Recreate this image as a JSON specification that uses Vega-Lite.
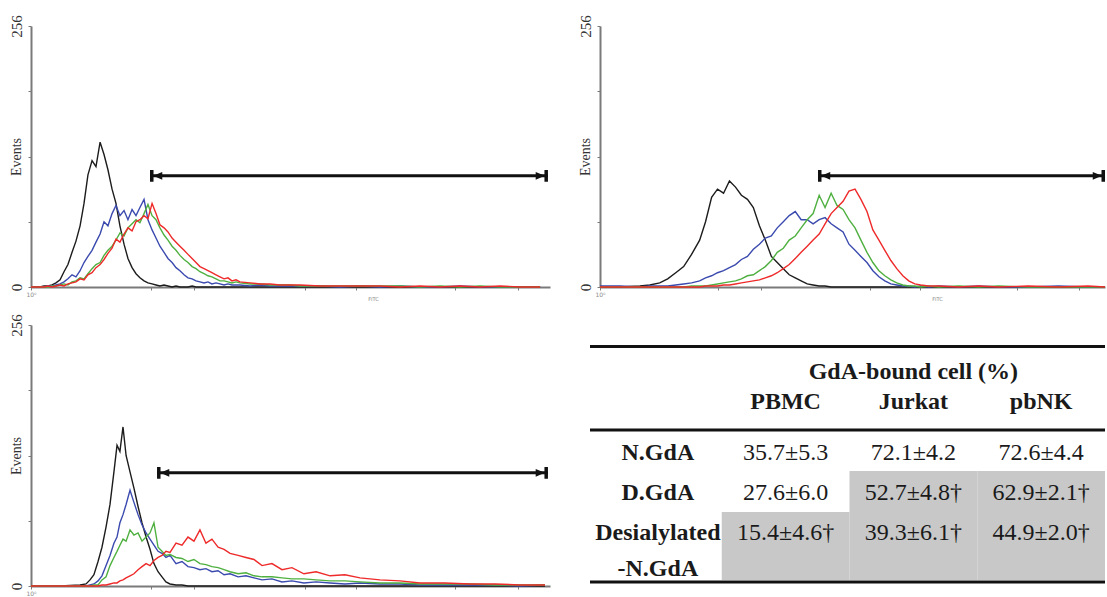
{
"$schema": "https://vega.github.io/schema/vega-lite/v6.json",
"background": "white",
"padding": {"left": 8, "top": 14, "right": 0, "bottom": 0},
"config": {
  "view": {"stroke": null},
  "font": "Liberation Serif",
  "axis": {"grid": false, "domainColor": "#7a7a7a", "domainWidth": 2, "tickColor": "#7a7a7a", "tickWidth": 1, "labelOverlap": false, "labelFlush": false, "labelBound": false},
  "axisX": {"tickSize": 3, "labelFontSize": 6, "labelColor": "#8a8a8a", "labelPadding": 1, "labelFont": "DejaVu Sans", "titleFont": "DejaVu Sans", "titleFontSize": 5, "titleColor": "#8a8a8a", "titleFontWeight": "normal", "titleBaseline": "middle", "titleY": 11},
  "axisY": {"tickSize": 3, "labelFontSize": 15, "labelColor": "#333333", "labelAngle": 270, "labelAlign": "center", "labelBaseline": "middle", "labelPadding": 12, "titleFontSize": 14, "titleFontWeight": "normal", "titleColor": "#333333", "titleX": -15, "titleY": 130.5, "titleAngle": 270, "titleAlign": "center", "titleBaseline": "middle"}
},
"datasets": {
  "h1": [
    {"L":0,"k":0,"b":0,"g":0,"r":0},
    {"L":0.053,"k":0,"b":0,"g":0,"r":0},
    {"L":0.076,"k":1,"b":0,"g":0,"r":0},
    {"L":0.099,"k":1,"b":1,"g":0,"r":1},
    {"L":0.123,"k":2,"b":1,"g":1,"r":0},
    {"L":0.146,"k":4,"b":2,"g":1,"r":1},
    {"L":0.170,"k":7,"b":3,"g":2,"r":2},
    {"L":0.193,"k":15,"b":5,"g":3,"r":1},
    {"L":0.216,"k":22,"b":8,"g":2,"r":3},
    {"L":0.240,"k":34,"b":12,"g":5,"r":4},
    {"L":0.263,"k":45,"b":10,"g":6,"r":5},
    {"L":0.287,"k":60,"b":16,"g":9,"r":8},
    {"L":0.310,"k":82,"b":24,"g":8,"r":7},
    {"L":0.333,"k":110,"b":30,"g":13,"r":12},
    {"L":0.357,"k":124,"b":36,"g":18,"r":14},
    {"L":0.380,"k":118,"b":44,"g":22,"r":19},
    {"L":0.404,"k":142,"b":52,"g":24,"r":22},
    {"L":0.427,"k":130,"b":64,"g":31,"r":27},
    {"L":0.450,"k":115,"b":60,"g":36,"r":33},
    {"L":0.474,"k":96,"b":72,"g":40,"r":38},
    {"L":0.497,"k":82,"b":80,"g":46,"r":47},
    {"L":0.520,"k":60,"b":70,"g":53,"r":44},
    {"L":0.544,"k":42,"b":75,"g":50,"r":52},
    {"L":0.567,"k":28,"b":66,"g":58,"r":58},
    {"L":0.591,"k":19,"b":76,"g":62,"r":55},
    {"L":0.614,"k":13,"b":70,"g":66,"r":64},
    {"L":0.637,"k":9,"b":78,"g":63,"r":66},
    {"L":0.661,"k":6,"b":86,"g":72,"r":70},
    {"L":0.684,"k":4,"b":66,"g":81,"r":67},
    {"L":0.708,"k":3,"b":56,"g":70,"r":82},
    {"L":0.731,"k":2,"b":48,"g":66,"r":72},
    {"L":0.754,"k":1,"b":40,"g":58,"r":61},
    {"L":0.778,"k":2,"b":34,"g":51,"r":58},
    {"L":0.801,"k":1,"b":28,"g":46,"r":54},
    {"L":0.825,"k":0,"b":24,"g":40,"r":48},
    {"L":0.848,"k":1,"b":19,"g":36,"r":44},
    {"L":0.871,"k":0,"b":16,"g":31,"r":40},
    {"L":0.895,"k":0,"b":12,"g":27,"r":36},
    {"L":0.918,"k":0,"b":9,"g":24,"r":32},
    {"L":0.942,"k":1,"b":8,"g":20,"r":28},
    {"L":0.965,"k":0,"b":6,"g":18,"r":24},
    {"L":0.988,"k":0,"b":5,"g":15,"r":20},
    {"L":1.012,"k":0,"b":4,"g":13,"r":18},
    {"L":1.035,"k":0,"b":5,"g":11,"r":16},
    {"L":1.058,"k":0,"b":3,"g":10,"r":14},
    {"L":1.082,"k":0,"b":4,"g":8,"r":12},
    {"L":1.105,"k":0,"b":3,"g":6,"r":10},
    {"L":1.129,"k":0,"b":2,"g":6,"r":8},
    {"L":1.152,"k":0,"b":3,"g":5,"r":9},
    {"L":1.175,"k":0,"b":2,"g":4,"r":6},
    {"L":1.199,"k":0,"b":2,"g":5,"r":7},
    {"L":1.222,"k":0,"b":2,"g":4,"r":5},
    {"L":1.281,"k":0,"b":1,"g":3,"r":4},
    {"L":1.339,"k":0,"b":2,"g":3,"r":3},
    {"L":1.398,"k":0,"b":1,"g":2,"r":3},
    {"L":1.456,"k":0,"b":1,"g":2,"r":2},
    {"L":1.515,"k":0,"b":1,"g":2,"r":2},
    {"L":1.573,"k":0,"b":1,"g":1,"r":2},
    {"L":1.690,"k":0,"b":1,"g":1,"r":1},
    {"L":1.807,"k":0,"b":0,"g":1,"r":1},
    {"L":1.924,"k":0,"b":1,"g":1,"r":1},
    {"L":2.041,"k":0,"b":0,"g":1,"r":1},
    {"L":2.158,"k":0,"b":1,"g":1,"r":0},
    {"L":2.275,"k":0,"b":0,"g":0,"r":1},
    {"L":2.392,"k":0,"b":0,"g":1,"r":0},
    {"L":2.509,"k":0,"b":1,"g":0,"r":1},
    {"L":2.626,"k":0,"b":0,"g":1,"r":0},
    {"L":2.743,"k":0,"b":0,"g":0,"r":1},
    {"L":2.860,"k":0,"b":0,"g":0,"r":0},
    {"L":2.977,"k":0,"b":0,"g":0,"r":0}
  ],
  "h2": [
    {"L":0,"k":0,"b":1,"g":0,"r":0},
    {"L":0.118,"k":0,"b":1,"g":0,"r":0},
    {"L":0.237,"k":1,"b":0,"g":0,"r":0},
    {"L":0.296,"k":2,"b":1,"g":0,"r":0},
    {"L":0.355,"k":4,"b":1,"g":0,"r":0},
    {"L":0.402,"k":8,"b":1,"g":0,"r":0},
    {"L":0.450,"k":14,"b":2,"g":0,"r":0},
    {"L":0.497,"k":20,"b":3,"g":0,"r":0},
    {"L":0.544,"k":32,"b":4,"g":1,"r":0},
    {"L":0.592,"k":46,"b":6,"g":1,"r":0},
    {"L":0.627,"k":64,"b":9,"g":1,"r":1},
    {"L":0.663,"k":88,"b":11,"g":2,"r":1},
    {"L":0.698,"k":96,"b":14,"g":3,"r":1},
    {"L":0.734,"k":92,"b":16,"g":4,"r":2},
    {"L":0.769,"k":104,"b":19,"g":5,"r":2},
    {"L":0.805,"k":98,"b":22,"g":6,"r":3},
    {"L":0.840,"k":90,"b":27,"g":8,"r":4},
    {"L":0.876,"k":86,"b":30,"g":11,"r":5},
    {"L":0.911,"k":78,"b":37,"g":12,"r":6},
    {"L":0.947,"k":60,"b":42,"g":16,"r":7},
    {"L":0.982,"k":46,"b":48,"g":20,"r":9},
    {"L":1.018,"k":30,"b":50,"g":26,"r":11},
    {"L":1.053,"k":24,"b":58,"g":34,"r":14},
    {"L":1.089,"k":18,"b":64,"g":38,"r":18},
    {"L":1.124,"k":12,"b":70,"g":46,"r":22},
    {"L":1.160,"k":9,"b":74,"g":50,"r":28},
    {"L":1.195,"k":6,"b":66,"g":58,"r":34},
    {"L":1.231,"k":3,"b":66,"g":66,"r":40},
    {"L":1.266,"k":2,"b":62,"g":72,"r":46},
    {"L":1.302,"k":1,"b":66,"g":90,"r":52},
    {"L":1.337,"k":1,"b":68,"g":78,"r":62},
    {"L":1.373,"k":0,"b":62,"g":92,"r":72},
    {"L":1.408,"k":0,"b":58,"g":80,"r":78},
    {"L":1.444,"k":0,"b":54,"g":76,"r":84},
    {"L":1.479,"k":0,"b":42,"g":66,"r":94},
    {"L":1.515,"k":0,"b":36,"g":58,"r":96},
    {"L":1.550,"k":0,"b":30,"g":46,"r":86},
    {"L":1.586,"k":0,"b":24,"g":34,"r":74},
    {"L":1.621,"k":0,"b":16,"g":24,"r":56},
    {"L":1.657,"k":0,"b":10,"g":16,"r":46},
    {"L":1.692,"k":0,"b":6,"g":11,"r":36},
    {"L":1.728,"k":0,"b":3,"g":7,"r":26},
    {"L":1.763,"k":0,"b":2,"g":4,"r":18},
    {"L":1.799,"k":0,"b":1,"g":2,"r":11},
    {"L":1.834,"k":0,"b":1,"g":1,"r":6},
    {"L":1.870,"k":0,"b":0,"g":1,"r":3},
    {"L":1.905,"k":0,"b":1,"g":0,"r":2},
    {"L":1.953,"k":0,"b":0,"g":1,"r":1},
    {"L":2.012,"k":0,"b":1,"g":0,"r":1},
    {"L":2.130,"k":0,"b":0,"g":1,"r":0},
    {"L":2.249,"k":0,"b":1,"g":0,"r":1},
    {"L":2.367,"k":0,"b":0,"g":1,"r":0},
    {"L":2.544,"k":0,"b":0,"g":0,"r":1},
    {"L":2.722,"k":0,"b":1,"g":0,"r":0},
    {"L":2.899,"k":0,"b":0,"g":0,"r":1},
    {"L":3.0,"k":0,"b":0,"g":0,"r":0}
  ],
  "h3": [
    {"L":0,"k":0,"b":0,"g":0,"r":0},
    {"L":0.170,"k":0,"b":0,"g":0,"r":0},
    {"L":0.287,"k":1,"b":0,"g":0,"r":0},
    {"L":0.322,"k":2,"b":0,"g":0,"r":0},
    {"L":0.345,"k":6,"b":1,"g":0,"r":0},
    {"L":0.368,"k":11,"b":2,"g":1,"r":0},
    {"L":0.392,"k":24,"b":5,"g":1,"r":0},
    {"L":0.415,"k":38,"b":10,"g":6,"r":1},
    {"L":0.439,"k":58,"b":20,"g":9,"r":1},
    {"L":0.462,"k":80,"b":30,"g":20,"r":2},
    {"L":0.485,"k":112,"b":42,"g":28,"r":3},
    {"L":0.503,"k":138,"b":48,"g":34,"r":3},
    {"L":0.520,"k":132,"b":62,"g":40,"r":5},
    {"L":0.538,"k":156,"b":70,"g":46,"r":6},
    {"L":0.556,"k":128,"b":80,"g":44,"r":8},
    {"L":0.579,"k":112,"b":94,"g":55,"r":10},
    {"L":0.602,"k":96,"b":82,"g":50,"r":12},
    {"L":0.626,"k":78,"b":70,"g":52,"r":16},
    {"L":0.649,"k":62,"b":60,"g":44,"r":19},
    {"L":0.673,"k":48,"b":52,"g":48,"r":22},
    {"L":0.696,"k":36,"b":46,"g":52,"r":20},
    {"L":0.719,"k":22,"b":40,"g":62,"r":25},
    {"L":0.743,"k":14,"b":34,"g":38,"r":28},
    {"L":0.766,"k":9,"b":32,"g":34,"r":30},
    {"L":0.789,"k":4,"b":28,"g":30,"r":34},
    {"L":0.813,"k":2,"b":30,"g":31,"r":33},
    {"L":0.848,"k":1,"b":22,"g":28,"r":42},
    {"L":0.883,"k":1,"b":24,"g":27,"r":40},
    {"L":0.918,"k":0,"b":19,"g":24,"r":48},
    {"L":0.953,"k":0,"b":18,"g":26,"r":44},
    {"L":0.988,"k":0,"b":16,"g":22,"r":55},
    {"L":1.023,"k":0,"b":17,"g":21,"r":42},
    {"L":1.058,"k":0,"b":14,"g":19,"r":46},
    {"L":1.094,"k":0,"b":15,"g":18,"r":38},
    {"L":1.129,"k":0,"b":11,"g":16,"r":36},
    {"L":1.164,"k":0,"b":12,"g":14,"r":32},
    {"L":1.211,"k":0,"b":9,"g":12,"r":30},
    {"L":1.257,"k":0,"b":10,"g":13,"r":28},
    {"L":1.304,"k":0,"b":8,"g":10,"r":26},
    {"L":1.351,"k":0,"b":6,"g":9,"r":20},
    {"L":1.409,"k":0,"b":7,"g":9,"r":22},
    {"L":1.468,"k":0,"b":4,"g":8,"r":16},
    {"L":1.526,"k":0,"b":5,"g":7,"r":18},
    {"L":1.596,"k":0,"b":3,"g":7,"r":12},
    {"L":1.667,"k":0,"b":4,"g":6,"r":14},
    {"L":1.749,"k":0,"b":3,"g":5,"r":10},
    {"L":1.836,"k":0,"b":2,"g":5,"r":11},
    {"L":1.924,"k":0,"b":3,"g":4,"r":8},
    {"L":2.041,"k":0,"b":2,"g":3,"r":6},
    {"L":2.158,"k":0,"b":2,"g":3,"r":5},
    {"L":2.275,"k":0,"b":1,"g":2,"r":3},
    {"L":2.421,"k":0,"b":1,"g":2,"r":3},
    {"L":2.567,"k":0,"b":1,"g":2,"r":2},
    {"L":2.713,"k":0,"b":1,"g":1,"r":2},
    {"L":2.860,"k":0,"b":0,"g":1,"r":1},
    {"L":3.006,"k":0,"b":1,"g":1,"r":1}
  ],
  "arr": [
    {"p":1,"L0":0.696,"L1":3.023,"v":109},
    {"p":2,"L0":1.295,"L1":3.0,"v":109},
    {"p":3,"L0":0.737,"L1":3.023,"v":111}
  ],
  "shade": [
    {"col":"Jurkat","y0":2.469,"y1":3.481},
    {"col":"pbNK","y0":2.469,"y1":3.481},
    {"col":"PBMC","y0":3.481,"y1":5.16},
    {"col":"Jurkat","y0":3.481,"y1":5.16},
    {"col":"pbNK","y0":3.481,"y1":5.16}
  ],
  "rules": [
    {"y":-0.605},
    {"y":1.457},
    {"y":5.21}
  ],
  "tbl": [
    {"kind":"bold","col":"Jurkat","r":0.02,"t":"GdA-bound cell (%)"},
    {"kind":"bold","col":"PBMC","r":0.765,"t":"PBMC"},
    {"kind":"bold","col":"Jurkat","r":0.765,"t":"Jurkat"},
    {"kind":"bold","col":"pbNK","r":0.765,"t":"pbNK"},
    {"kind":"bold","col":"label","r":2.02,"t":"N.GdA"},
    {"kind":"bold","col":"label","r":3.01,"t":"D.GdA"},
    {"kind":"bold","col":"label","r":4.0,"t":"Desialylated"},
    {"kind":"bold","col":"label","r":4.89,"t":"-N.GdA"},
    {"kind":"val","col":"PBMC","r":2.02,"t":"35.7±5.3"},
    {"kind":"val","col":"Jurkat","r":2.02,"t":"72.1±4.2"},
    {"kind":"val","col":"pbNK","r":2.02,"t":"72.6±4.4"},
    {"kind":"val","col":"PBMC","r":3.01,"t":"27.6±6.0"},
    {"kind":"val","col":"Jurkat","r":3.01,"t":"52.7±4.8†"},
    {"kind":"val","col":"pbNK","r":3.01,"t":"62.9±2.1†"},
    {"kind":"val","col":"PBMC","r":4.0,"t":"15.4±4.6†"},
    {"kind":"val","col":"Jurkat","r":4.0,"t":"39.3±6.1†"},
    {"kind":"val","col":"pbNK","r":4.0,"t":"44.9±2.0†"}
  ]
},
"spacing": 12,
"vconcat": [
  {
    "bounds": "flush",
    "spacing": 50,
    "hconcat": [
      {
        "width": 519, "height": 261,
        "layer": [
          {
            "data": {"name": "h1"},
            "transform": [{"fold": ["k","b","g","r"], "as": ["s","v"]}],
            "mark": {"type": "line", "strokeWidth": 1.4},
            "encoding": {
              "x": {"field": "L", "type": "quantitative", "scale": {"domain": [0, 3.035], "nice": false, "zero": false},
                    "axis": {"title": "FITC", "titleX": 342, "values": [0,0.301,0.477,0.602,0.699,0.778,0.845,0.903,0.954,1,1.301,1.477,1.602,1.699,1.778,1.845,1.903,1.954,2,2.301,2.477,2.602,2.699,2.778,2.845,2.903,2.954,3],
                             "labelExpr": "datum.value==0?'10⁰':datum.value==1?'10¹':datum.value==2?'10²':datum.value==3?'10³':''"}},
              "y": {"field": "v", "type": "quantitative", "scale": {"domain": [0, 256], "nice": false},
                    "axis": {"title": "Events", "values": [0,64,128,192,256], "labelExpr": "datum.value==0||datum.value==256?datum.label:''"}},
              "color": {"field": "s", "type": "nominal", "scale": {"domain": ["k","b","g","r"], "range": ["#1c1c1c","#3b4aae","#4fb040","#ee2a2a"]}, "legend": null}
            }
          },
          {
            "data": {"name": "arr"},
            "transform": [{"filter": "datum.p==1"}],
            "mark": {"type": "rule", "strokeWidth": 3, "color": "#111111"},
            "encoding": {
              "x": {"field": "L0", "type": "quantitative", "scale": {"domain": [0, 3.035], "nice": false, "zero": false}},
              "x2": {"field": "L1"},
              "y": {"field": "v", "type": "quantitative", "scale": {"domain": [0, 256], "nice": false}}
            }
          },
          {
            "data": {"name": "arr"},
            "transform": [{"filter": "datum.p==1"}],
            "mark": {"type": "point", "filled": true, "opacity": 1, "color": "#111111", "size": 196, "xOffset": 7, "shape": "M-1,-0.85H-0.5V0.85H-1Z M-0.55,0L0.75,-0.55L0.75,0.55Z"},
            "encoding": {
              "x": {"field": "L0", "type": "quantitative", "scale": {"domain": [0, 3.035], "nice": false, "zero": false}},
              "y": {"field": "v", "type": "quantitative", "scale": {"domain": [0, 256], "nice": false}}
            }
          },
          {
            "data": {"name": "arr"},
            "transform": [{"filter": "datum.p==1"}],
            "mark": {"type": "point", "filled": true, "opacity": 1, "color": "#111111", "size": 196, "xOffset": -7, "shape": "M1,-0.85H0.5V0.85H1Z M0.55,0L-0.75,-0.55L-0.75,0.55Z"},
            "encoding": {
              "x": {"field": "L1", "type": "quantitative", "scale": {"domain": [0, 3.035], "nice": false, "zero": false}},
              "y": {"field": "v", "type": "quantitative", "scale": {"domain": [0, 256], "nice": false}}
            }
          }
        ]
      },
      {
        "width": 505, "height": 261,
        "layer": [
          {
            "data": {"name": "h2"},
            "transform": [{"fold": ["k","b","g","r"], "as": ["s","v"]}],
            "mark": {"type": "line", "strokeWidth": 1.4},
            "encoding": {
              "x": {"field": "L", "type": "quantitative", "scale": {"domain": [0, 3], "nice": false, "zero": false},
                    "axis": {"title": "FITC", "titleX": 337, "values": [0,0.301,0.477,0.602,0.699,0.778,0.845,0.903,0.954,1,1.301,1.477,1.602,1.699,1.778,1.845,1.903,1.954,2,2.301,2.477,2.602,2.699,2.778,2.845,2.903,2.954],
                             "labelExpr": "datum.value==0?'10⁰':datum.value==1?'10¹':datum.value==2?'10²':''"}},
              "y": {"field": "v", "type": "quantitative", "scale": {"domain": [0, 256], "nice": false},
                    "axis": {"title": "Events", "values": [0,64,128,192,256], "labelExpr": "datum.value==0||datum.value==256?datum.label:''"}},
              "color": {"field": "s", "type": "nominal", "scale": {"domain": ["k","b","g","r"], "range": ["#1c1c1c","#3b4aae","#4fb040","#ee2a2a"]}, "legend": null}
            }
          },
          {
            "data": {"name": "arr"},
            "transform": [{"filter": "datum.p==2"}],
            "mark": {"type": "rule", "strokeWidth": 3, "color": "#111111"},
            "encoding": {
              "x": {"field": "L0", "type": "quantitative", "scale": {"domain": [0, 3], "nice": false, "zero": false}},
              "x2": {"field": "L1"},
              "y": {"field": "v", "type": "quantitative", "scale": {"domain": [0, 256], "nice": false}}
            }
          },
          {
            "data": {"name": "arr"},
            "transform": [{"filter": "datum.p==2"}],
            "mark": {"type": "point", "filled": true, "opacity": 1, "color": "#111111", "size": 196, "xOffset": 7, "shape": "M-1,-0.85H-0.5V0.85H-1Z M-0.55,0L0.75,-0.55L0.75,0.55Z"},
            "encoding": {
              "x": {"field": "L0", "type": "quantitative", "scale": {"domain": [0, 3], "nice": false, "zero": false}},
              "y": {"field": "v", "type": "quantitative", "scale": {"domain": [0, 256], "nice": false}}
            }
          },
          {
            "data": {"name": "arr"},
            "transform": [{"filter": "datum.p==2"}],
            "mark": {"type": "point", "filled": true, "opacity": 1, "color": "#111111", "size": 196, "xOffset": -7, "shape": "M1,-0.85H0.5V0.85H1Z M0.55,0L-0.75,-0.55L-0.75,0.55Z"},
            "encoding": {
              "x": {"field": "L1", "type": "quantitative", "scale": {"domain": [0, 3], "nice": false, "zero": false}},
              "y": {"field": "v", "type": "quantitative", "scale": {"domain": [0, 256], "nice": false}}
            }
          }
        ]
      }
    ]
  },
  {
    "bounds": "flush",
    "spacing": 40,
    "hconcat": [
      {
        "width": 519, "height": 261,
        "layer": [
          {
            "data": {"name": "h3"},
            "transform": [{"fold": ["k","b","g","r"], "as": ["s","v"]}],
            "mark": {"type": "line", "strokeWidth": 1.4},
            "encoding": {
              "x": {"field": "L", "type": "quantitative", "scale": {"domain": [0, 3.035], "nice": false, "zero": false},
                    "axis": {"title": null, "values": [0,0.301,0.477,0.602,0.699,0.778,0.845,0.903,0.954,1,1.301,1.477,1.602,1.699,1.778,1.845,1.903,1.954,2,2.301,2.477,2.602,2.699,2.778,2.845,2.903,2.954,3],
                             "labelExpr": "datum.value==0?'10⁰':datum.value==1?'10¹':datum.value==2?'10²':datum.value==3?'10³':''"}},
              "y": {"field": "v", "type": "quantitative", "scale": {"domain": [0, 256], "nice": false},
                    "axis": {"title": "Events", "values": [0,64,128,192,256], "labelExpr": "datum.value==0||datum.value==256?datum.label:''"}},
              "color": {"field": "s", "type": "nominal", "scale": {"domain": ["k","b","g","r"], "range": ["#1c1c1c","#3b4aae","#4fb040","#ee2a2a"]}, "legend": null}
            }
          },
          {
            "data": {"name": "arr"},
            "transform": [{"filter": "datum.p==3"}],
            "mark": {"type": "rule", "strokeWidth": 3, "color": "#111111"},
            "encoding": {
              "x": {"field": "L0", "type": "quantitative", "scale": {"domain": [0, 3.035], "nice": false, "zero": false}},
              "x2": {"field": "L1"},
              "y": {"field": "v", "type": "quantitative", "scale": {"domain": [0, 256], "nice": false}}
            }
          },
          {
            "data": {"name": "arr"},
            "transform": [{"filter": "datum.p==3"}],
            "mark": {"type": "point", "filled": true, "opacity": 1, "color": "#111111", "size": 196, "xOffset": 7, "shape": "M-1,-0.85H-0.5V0.85H-1Z M-0.55,0L0.75,-0.55L0.75,0.55Z"},
            "encoding": {
              "x": {"field": "L0", "type": "quantitative", "scale": {"domain": [0, 3.035], "nice": false, "zero": false}},
              "y": {"field": "v", "type": "quantitative", "scale": {"domain": [0, 256], "nice": false}}
            }
          },
          {
            "data": {"name": "arr"},
            "transform": [{"filter": "datum.p==3"}],
            "mark": {"type": "point", "filled": true, "opacity": 1, "color": "#111111", "size": 196, "xOffset": -7, "shape": "M1,-0.85H0.5V0.85H1Z M0.55,0L-0.75,-0.55L-0.75,0.55Z"},
            "encoding": {
              "x": {"field": "L1", "type": "quantitative", "scale": {"domain": [0, 3.035], "nice": false, "zero": false}},
              "y": {"field": "v", "type": "quantitative", "scale": {"domain": [0, 256], "nice": false}}
            }
          }
        ]
      },
      {
        "width": 515, "height": 258,
        "layer": [
          {
            "data": {"name": "shade"},
            "mark": {"type": "rect", "color": "#c8c8c8", "opacity": 1},
            "encoding": {
              "x": {"field": "col", "type": "nominal", "scale": {"domain": ["label","PBMC","Jurkat","pbNK"], "range": [4, 515], "paddingInner": 0, "paddingOuter": 0}, "axis": null},
              "y": {"field": "y0", "type": "quantitative", "scale": {"domain": [-1.136, 5.235], "reverse": true, "nice": false, "zero": false}, "axis": null},
              "y2": {"field": "y1"}
            }
          },
          {
            "data": {"name": "rules"},
            "mark": {"type": "rule", "strokeWidth": 3, "color": "#111111"},
            "encoding": {
              "y": {"field": "y", "type": "quantitative", "scale": {"domain": [-1.136, 5.235], "reverse": true, "nice": false, "zero": false}, "axis": null}
            }
          },
          {
            "data": {"name": "tbl"},
            "transform": [{"filter": "datum.kind=='bold'"}],
            "mark": {"type": "text", "font": "Liberation Serif", "fontSize": 24, "fontWeight": "bold", "color": "#1a1a1a", "align": "center", "baseline": "middle"},
            "encoding": {
              "x": {"field": "col", "type": "nominal", "scale": {"domain": ["label","PBMC","Jurkat","pbNK"], "range": [4, 515], "paddingInner": 0, "paddingOuter": 0}, "axis": null},
              "y": {"field": "r", "type": "quantitative", "scale": {"domain": [-1.136, 5.235], "reverse": true, "nice": false, "zero": false}, "axis": null},
              "text": {"field": "t"}
            }
          },
          {
            "data": {"name": "tbl"},
            "transform": [{"filter": "datum.kind=='val'"}],
            "mark": {"type": "text", "font": "Liberation Serif", "fontSize": 24, "color": "#1a1a1a", "align": "center", "baseline": "middle"},
            "encoding": {
              "x": {"field": "col", "type": "nominal", "scale": {"domain": ["label","PBMC","Jurkat","pbNK"], "range": [4, 515], "paddingInner": 0, "paddingOuter": 0}, "axis": null},
              "y": {"field": "r", "type": "quantitative", "scale": {"domain": [-1.136, 5.235], "reverse": true, "nice": false, "zero": false}, "axis": null},
              "text": {"field": "t"}
            }
          }
        ]
      }
    ]
  }
]
}
